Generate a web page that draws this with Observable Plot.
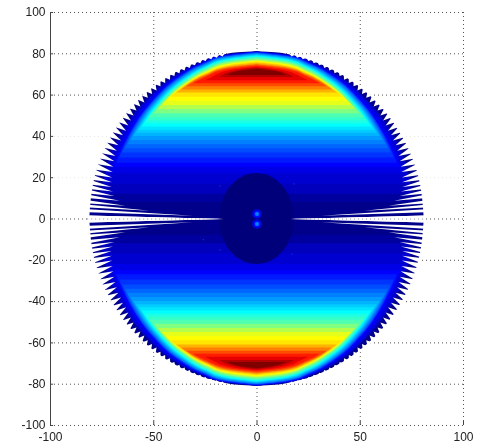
<!DOCTYPE html>
<html>
<head>
<meta charset="utf-8">
<style>
html,body{margin:0;padding:0;background:#fff;width:481px;height:444px;overflow:hidden}
svg{display:block;filter:blur(0.35px)}
</style>
<script src="https://cdn.jsdelivr.net/npm/d3@7"></script>
<script src="https://cdn.jsdelivr.net/npm/@observablehq/plot@0.6"></script>
</head>
<body>
<div id="chart"></div>
<script>
const xTicks = [-100, -50, 0, 50, 100];
const yTicks = [-100, -80, -60, -40, -20, 0, 20, 40, 60, 80, 100];
const fadedGridY = [20, 40];

const jetStops = [-0.04, 0, 0.125, 0.375, 0.625, 0.875, 1];
const jetColors = ["#00006a", "#000080", "#0000ff", "#00ffff", "#ffff00", "#ff0000", "#800000"];

// Value of each filled contour, and its outline in the upper half (mirrored below).
const levelValues = [0.01, 0.03, 0.06, 0.08, 0.1, 0.125, 0.15, 0.175, 0.2, 0.225, 0.25, 0.275, 0.3, 0.325, 0.35, 0.375, 0.4, 0.425, 0.45, 0.5, 0.55, 0.6, 0.625, 0.65, 0.7, 0.75, 0.8, 0.85, 0.9, 0.95, 1];
const levelY = [
  [0, 20, 40, 55, 65, 70, 75, 78, 79.5, 80.5, 81],
  [8, 40.5, 56.6, 68.8, 75.2, 79.3, 80.9],
  [12, 40.5, 56.6, 68.8, 75.2, 79.3, 80.9],
  [17, 40.5, 56.6, 68.8, 75.2, 79.3, 80.9],
  [22, 40.4, 56.6, 68.7, 75.1, 79.2, 80.8],
  [25, 40.4, 56.5, 68.6, 75, 79.1, 80.7],
  [27, 40.3, 56.4, 68.5, 75, 79, 80.6],
  [29.5, 40.2, 56.3, 68.4, 74.9, 78.9, 80.5],
  [32, 40.2, 56.2, 68.3, 74.7, 78.7, 80.3],
  [34, 40.1, 56.1, 68.2, 74.6, 78.6, 80.2],
  [36, 40, 56, 68, 74.4, 78.4, 80],
  [38, 55.8, 67.8, 74.2, 78.2, 79.8],
  [40, 55.7, 67.6, 73.9, 77.9, 79.5],
  [41.5, 55.5, 67.4, 73.7, 77.7, 79.3],
  [43, 55.3, 67.2, 73.5, 77.4, 79],
  [44.5, 55.2, 67, 73.3, 77.2, 78.8],
  [46, 55, 66.7, 73, 76.9, 78.5],
  [47.5, 54.8, 66.5, 72.8, 76.7, 78.3],
  [49, 54.6, 66.3, 72.5, 76.4, 78],
  [51, 54.3, 65.9, 72.1, 76, 77.5],
  [53, 65.5, 71.6, 75.5, 77],
  [55, 65, 71.1, 75, 76.5],
  [57, 64.8, 70.9, 74.8, 76.2],
  [59, 64.6, 70.7, 74.5, 76],
  [61, 64.2, 70.2, 74, 75.5],
  [62.5, 63.8, 69.8, 73.5, 75],
  [64, 69.4, 73.1, 74.6],
  [65.5, 68.8, 72.5, 74],
  [67, 68.4, 72, 73.5],
  [68.5, 72, 73],
  [69.5, 71.5, 72.5]
];
const levelHalfWidth = [
  [81, 78.5, 70.4, 59.5, 48.3, 40.8, 30.6, 21.9, 15.5, 9, 0],
  [76, 66, 54, 40, 28, 15, 0],
  [75.5, 66, 54, 40, 28, 15, 0],
  [74.5, 66, 54, 40, 28, 15, 0],
  [71, 64, 53, 39, 27, 15, 0],
  [69.5, 63, 52, 38.5, 26.8, 14.6, 0],
  [68, 62, 51, 38, 26.5, 14.3, 0],
  [66.5, 61.8, 50.9, 37.7, 26.2, 14.2, 0],
  [65, 61.5, 50.7, 37.4, 26, 14, 0],
  [63.7, 61, 50.4, 37.2, 25.9, 14, 0],
  [62.5, 60.6, 50, 37, 25.8, 14, 0],
  [61, 49.7, 36.7, 25.6, 13.8, 0],
  [59.6, 49.3, 36.4, 25.4, 13.7, 0],
  [58.3, 49, 36.1, 25.2, 13.6, 0],
  [57, 48.6, 35.8, 25, 13.5, 0],
  [55.6, 48.2, 35.5, 24.8, 13.4, 0],
  [54.3, 47.8, 35.3, 24.7, 13.3, 0],
  [53, 47.8, 35.3, 24.7, 13.3, 0],
  [52, 47.8, 35.3, 24.7, 13.3, 0],
  [49.7, 47, 34.8, 24.3, 13.1, 0],
  [47.9, 34.8, 24.3, 13.1, 0],
  [45.9, 34.8, 24.3, 13.1, 0],
  [43.7, 34.8, 24.3, 13.1, 0],
  [41.6, 34.8, 24.3, 13.1, 0],
  [38.9, 34.8, 24.3, 13.1, 0],
  [36.5, 34.8, 24.3, 13.1, 0],
  [33.9, 24.3, 13.1, 0],
  [30.7, 24.3, 13.1, 0],
  [25, 22, 12, 0],
  [18, 8, 0],
  [14, 8, 0]
];
levelHalfWidth[28] = [25, 22, 12, 0];

// Dark central disc
const discY = [-22, -21.5, -20, -16, -10, -4, 0, 4, 10, 16, 20, 21.5, 22];
const discHalfWidth = [0, 3.8, 7.5, 12.4, 16, 17.7, 18, 17.7, 16, 12.4, 7.5, 3.8, 0];

// Gaps between the spokes along the rim: angle from the horizontal, inner radius, half-width in degrees
const gapAngle = [0, 2.8, 4.4, 5.8, 7.6, 9.2, 10.8, 12.4, 14.2, 16, 18, 20, 22, 24, 26, 28, 30, 32, 34, 36, 38, 40, 42, 44, 46, 48, 50, 52, 54, 56, 58, 60, 62, 64, 66, 68, 70, 72, 74, 76, 78];
const gapInner = [16, 31, 52, 64, 67, 70, 71, 72, 72.5, 73, 73.5, 74, 74.5, 75, 75.5, 76, 76, 76.5, 76.5, 77, 77.5, 78, 78.5, 78.5, 78.5, 79, 79, 79, 79.5, 79.5, 79.5, 80, 80, 80, 80, 80.3, 80.3, 80.5, 80.5, 80.5, 80.5];
const gapHalf = [1.2, 0.5, 0.45, 0.5, 0.55, 0.6, 0.65, 0.7, 0.8, 0.9, 1, 1, 1, 1, 1, 1, 1, 1, 1, 1, 1, 1, 1, 1, 1, 1, 1, 1, 1, 1, 1, 1, 1, 1, 1, 1, 1, 1, 1, 1, 1];

// Central blobs and specks
const blobY = [2.4, -2.4];
const speckX = [-18, 18, -26, -18, 17];
const speckY = [16, 17, -10, -15, -17];

const gapOuter = 81.6;

const bands = [];
levelValues.forEach((v, k) => {
  const ys = levelY[k], ws = levelHalfWidth[k];
  ys.forEach((y, i) => bands.push({id: "t" + k, v, y, xl: -ws[i], xr: ws[i]}));
  [...ys].reverse().forEach((y, j) => {
    const w = ws[ys.length - 1 - j];
    bands.push({id: "b" + k, v, y: -y, xl: -w, xr: w});
  });
});
const disc = discY.map((y, i) => ({y, xl: -discHalfWidth[i], xr: discHalfWidth[i], v: -0.01}));

const gaps = [];
gapAngle.forEach((a, i) => {
  const half = gapHalf[i];
  const rad = Math.PI / 180;
  [[1, 1], [-1, 1], [1, -1], [-1, -1]].forEach(([sx, sy], q) => {
    const id = i + "-" + q;
    gaps.push({id, x: sx * gapInner[i] * Math.cos(a * rad), y: sy * gapInner[i] * Math.sin(a * rad)});
    gaps.push({id, x: sx * gapOuter * Math.cos((a - half) * rad), y: sy * gapOuter * Math.sin((a - half) * rad)});
    gaps.push({id, x: sx * gapOuter * Math.cos((a + half) * rad), y: sy * gapOuter * Math.sin((a + half) * rad)});
  });
});

const strongGridY = yTicks.filter(d => !fadedGridY.includes(d));
const gridInk = "#555";
const dots = "1,3";

const chart = Plot.plot({
  width: 481,
  height: 444,
  marginLeft: 50,
  marginRight: 18,
  marginTop: 12,
  marginBottom: 19,
  style: {fontFamily: "'Liberation Sans', Arial, sans-serif", fontSize: "12px", background: "#fff", color: "#222"},
  x: {domain: [-100, 100], label: null},
  y: {domain: [-100, 100], label: null},
  color: {type: "linear", domain: jetStops, range: jetColors, clamp: true},
  marks: [
    Plot.ruleY(strongGridY, {stroke: gridInk, strokeDasharray: dots, strokeWidth: 1}),
    Plot.ruleY(fadedGridY, {stroke: "#e6e6e6", strokeDasharray: dots, strokeWidth: 1}),
    Plot.ruleX(xTicks.slice(1), {stroke: gridInk, strokeDasharray: dots, strokeWidth: 1}),
    Plot.areaX(bands, {y: "y", x1: "xl", x2: "xr", z: "id", fill: "v", curve: "monotone-y"}),
    Plot.areaX(disc, {y: "y", x1: "xl", x2: "xr", fill: "v", curve: "monotone-y"}),
    Plot.line(gaps, {x: "x", y: "y", z: "id", fill: "white", stroke: "none"}),
    Plot.ruleY([0], {x1: -82, x2: -24, stroke: "#8f8fb0", strokeDasharray: dots}),
    Plot.ruleY([0], {x1: 24, x2: 82, stroke: "#8f8fb0", strokeDasharray: dots}),
    Plot.dot(blobY, {x: () => 0, y: d => d, r: 5, fill: () => 0.07}),
    Plot.dot(blobY, {x: () => 0, y: d => d, r: 3.5, fill: () => 0.14}),
    Plot.dot(blobY, {x: () => 0, y: d => d, r: 2, fill: () => 0.25}),
    Plot.dot(speckX, {x: d => d, y: (d, i) => speckY[i], r: 0.7, fill: () => 0.18}),
    Plot.ruleX([-100], {stroke: "#444", strokeWidth: 1}),
    Plot.ruleX(xTicks, {y1: -100, y2: -98, stroke: "#444"}),
    Plot.ruleY(yTicks, {x1: -100, x2: -98.5, stroke: "#444"}),
    Plot.axisX(xTicks, {anchor: "bottom", tickSize: 0, tickPadding: 7, tickFormat: d => String(d), label: null}),
    Plot.axisY(yTicks, {anchor: "left", tickSize: 0, tickPadding: 5, tickFormat: d => String(d), label: null})
  ]
});
document.getElementById("chart").appendChild(chart);
</script>
</body>
</html>
